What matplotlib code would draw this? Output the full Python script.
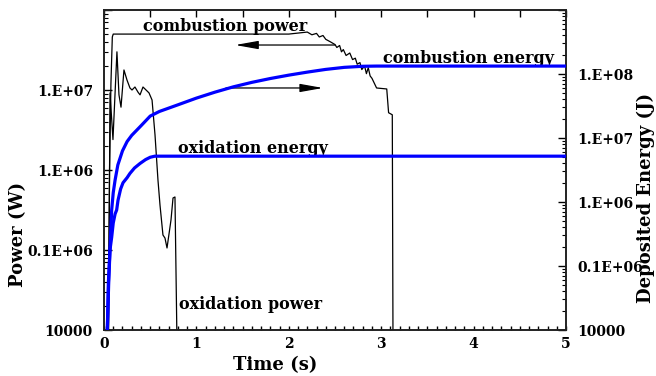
import matplotlib
matplotlib.use("Agg")
import matplotlib.pyplot as plt
from matplotlib.ticker import FixedLocator, LogLocator, NullFormatter, MultipleLocator

# ---------------- data ----------------
comb_power_t = [0.04, 0.06, 0.075, 0.09, 0.10, 1.0, 2.0, 2.2, 2.25, 2.3, 2.33, 2.37, 2.4, 2.45,
                2.5, 2.52, 2.55, 2.57, 2.59, 2.62, 2.66, 2.69, 2.72, 2.74, 2.77, 2.79, 2.82,
                2.84, 2.86, 2.88, 2.90, 2.95, 3.06, 3.08, 3.12, 3.13]
comb_power_v = [1e3, 1.0e6, 1.2e7, 4.6e7, 5.0e7, 5.0e7, 5.0e7, 5.3e7, 4.9e7, 5.1e7, 4.6e7, 4.8e7,
                4.3e7, 4.0e7, 3.7e7, 3.4e7, 3.6e7, 3.0e7, 3.2e7, 2.7e7, 2.9e7, 2.4e7, 2.5e7,
                2.1e7, 2.2e7, 1.8e7, 2.0e7, 1.6e7, 1.9e7, 1.5e7, 1.4e7, 1.06e7, 1.03e7, 5.2e6,
                4.9e6, 1e3]

ox_power_t = [0.045, 0.065, 0.097, 0.14, 0.162, 0.184, 0.216, 0.249, 0.281, 0.303, 0.335, 0.368,
              0.39, 0.422, 0.455, 0.487, 0.52, 0.552, 0.584, 0.606, 0.638, 0.66, 0.682, 0.725,
              0.747, 0.768, 0.80]
ox_power_v = [1e3, 9.2e6, 2.4e6, 3.0e7, 8.7e6, 6.1e6, 1.78e7, 1.33e7, 1.06e7, 1.0e7, 1.09e7,
              9.4e6, 8.7e6, 1.09e7, 1.0e7, 9.2e6, 7.5e6, 2.75e6, 7.5e5, 3.65e5, 1.54e5, 1.41e5,
              1.06e5, 2.37e5, 4.47e5, 4.6e5, 1e3]

comb_energy_t = [0.036, 0.05, 0.065, 0.083, 0.10, 0.12, 0.15, 0.20, 0.25, 0.30, 0.40, 0.50,
                 0.60, 0.80, 1.0, 1.2, 1.4, 1.6, 1.8, 2.0, 2.2, 2.4, 2.6, 2.8, 2.95, 5.0]
comb_energy_v = [1e4, 5e4, 1.8e5, 7.5e5, 1.4e6, 2.2e6, 3.8e6, 6.3e6, 8.8e6, 1.1e7, 1.55e7, 2.2e7,
                 2.6e7, 3.3e7, 4.2e7, 5.2e7, 6.3e7, 7.4e7, 8.5e7, 9.6e7, 1.07e8, 1.18e8, 1.27e8,
                 1.32e8, 1.33e8, 1.33e8]

ox_energy_t = [0.036, 0.047, 0.065, 0.083, 0.10, 0.12, 0.137, 0.152, 0.18, 0.206, 0.25, 0.281,
               0.33, 0.39, 0.45, 0.50, 0.55, 5.0]
ox_energy_v = [1e4, 5.4e4, 1.8e5, 2.8e5, 4.7e5, 6.5e5, 7.5e5, 1.07e6, 1.6e6, 2.0e6, 2.4e6, 2.8e6,
               3.4e6, 4.0e6, 4.6e6, 5.0e6, 5.2e6, 5.2e6]

x_ticks = [0, 1, 2, 3, 4, 5]
x_tick_labels = ['0', '1', '2', '3', '4', '5']
left_ticks = [1e4, 1e5, 1e6, 1e7, 1e8]
left_tick_labels = ['10000', '0.1E+06', '1.E+06', '1.E+07', '']
right_ticks = [1e4, 1e5, 1e6, 1e7, 1e8, 1e9]
right_tick_labels = ['10000', '0.1E+06', '1.E+06', '1.E+07', '1.E+08', '']

# ---------------- figure ----------------
W, H = 656, 376
fig = plt.figure(figsize=(W / 100, H / 100), dpi=100)
L, R, T, B = 104, 566, 10, 330
ax = fig.add_axes([L / W, 1 - B / H, (R - L) / W, (B - T) / H])
ax2 = ax.twinx()

FONT = 'DejaVu Serif'
BLUE = '#0000ff'

ax.set_xlim(0, 5)
ax.set_yscale('log')
ax.set_ylim(1e4, 1e8)
ax2.set_yscale('log')
ax2.set_ylim(1e4, 1e9)

ax.plot(comb_power_t, comb_power_v, color='black', lw=0.9, zorder=3)
ax.plot(ox_power_t, ox_power_v, color='black', lw=0.9, zorder=3)
ax2.plot(comb_energy_t, comb_energy_v, color=BLUE, lw=2.3, zorder=4)
ax2.plot(ox_energy_t, ox_energy_v, color=BLUE, lw=2.3, zorder=4)

# ticks
ax.xaxis.set_major_locator(FixedLocator(x_ticks))
ax.set_xticklabels(x_tick_labels, fontfamily=FONT, fontweight='bold', fontsize=10)
ax.xaxis.set_minor_locator(MultipleLocator(0.1))
ax.tick_params(axis='x', which='both', direction='in', length=3, width=1.0, color='black',
               top=False, pad=5)

ax.yaxis.set_major_locator(FixedLocator(left_ticks))
ax.set_yticklabels(left_tick_labels, fontfamily=FONT, fontweight='bold', fontsize=10)
ax.yaxis.set_minor_locator(LogLocator(base=10, subs=range(2, 10), numticks=20))
ax.yaxis.set_minor_formatter(NullFormatter())
ax.tick_params(axis='y', which='major', direction='in', length=6, width=1.0, color='black',
               right=False, pad=8)
ax.tick_params(axis='y', which='minor', direction='in', length=3, width=0.8, color='black',
               right=False)

ax2.yaxis.set_major_locator(FixedLocator(right_ticks))
ax2.set_yticklabels(right_tick_labels, fontfamily=FONT, fontweight='bold', fontsize=10)
ax2.yaxis.set_minor_locator(LogLocator(base=10, subs=range(2, 10), numticks=20))
ax2.yaxis.set_minor_formatter(NullFormatter())
ax2.tick_params(axis='y', which='major', direction='in', length=6, width=1.0, color='black', pad=8)
ax2.tick_params(axis='y', which='minor', direction='in', length=3, width=0.8, color='black')

top = ax.secondary_xaxis('top')
top.xaxis.set_major_locator(MultipleLocator(0.5))
top.tick_params(axis='x', direction='in', length=5, width=1.0, color='black', labeltop=False)

for a in (ax, ax2):
    for s in a.spines.values():
        s.set_linewidth(1.2)
        s.set_color('#222222')
for s in top.spines.values():
    s.set_visible(False)

# annotations
tkw = dict(fontfamily=FONT, fontweight='bold', fontsize=11.5, color='black')
ax.text(1.31, 6.3e7, 'combustion power', ha='center', va='center', **tkw)
ax.text(3.02, 2.5e7, 'combustion energy', ha='left', va='center', **tkw)
ax.text(0.80, 1.88e6, 'oxidation energy', ha='left', va='center', **tkw)
ax.text(0.81, 2.1e4, 'oxidation power', ha='left', va='center', **tkw)

akw = dict(arrowstyle='-|>,head_length=1.4,head_width=0.25', color='black', lw=0.9,
           shrinkA=0, shrinkB=0)
ax.annotate('', xy=(1.42, 3.65e7), xytext=(2.50, 3.65e7), arrowprops=akw)
ax.annotate('', xy=(2.37, 1.06e7), xytext=(1.32, 1.06e7), arrowprops=akw)

# axis labels
lkw = dict(fontfamily=FONT, fontweight='bold', fontsize=13)
fig.text(18 / W, 1 - 234 / H, 'Power (W)', rotation=90, ha='center', va='center', **lkw)
fig.text(646 / W, 1 - 198 / H, 'Deposited Energy (J)', rotation=90, ha='center', va='center', **lkw)
fig.text(275 / W, 1 - 365 / H, 'Time (s)', ha='center', va='center', **lkw)

fig.savefig('out.png', dpi=100)
